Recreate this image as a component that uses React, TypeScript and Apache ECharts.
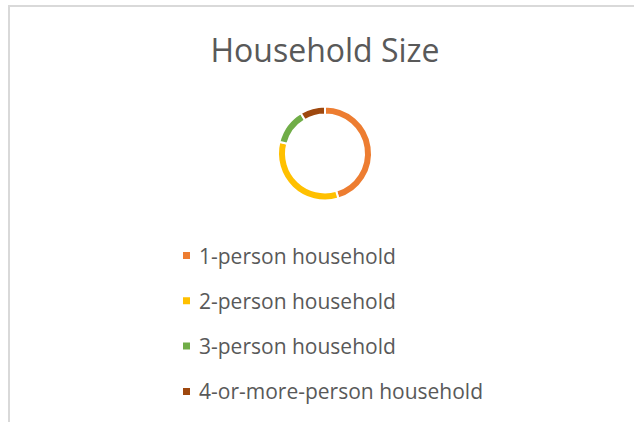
import React, { useEffect, useRef } from "react";
import * as echarts from "echarts";

const categories = [
  "1-person household",
  "2-person household",
  "3-person household",
  "4-or-more-person household",
];
const values = [45.4, 33.6, 12.4, 8.6];
const colors = ["#ED7D31", "#FFC000", "#70AD47", "#9E480E"];
const titleText = "Household Size";

export default function App() {
  const ref = useRef<HTMLDivElement>(null);
  useEffect(() => {
    document.body.style.margin = "0";
    const chart = echarts.init(ref.current!, null, { renderer: "svg" });
    chart.setOption({
      animation: false,
      backgroundColor: "#ffffff",
      graphic: [
        {
          type: "rect",
          shape: { x: 9, y: 6, width: 700, height: 500 },
          style: { fill: "none", stroke: "#d9d9d9", lineWidth: 2 },
          silent: true,
        },
        {
          type: "text",
          x: 325,
          y: 49,
          style: {
            text: titleText,
            fontFamily: "Open Sans",
            fontSize: 32,
            fill: "#595959",
            align: "center",
            verticalAlign: "middle",
          },
        },
      ],
      legend: {
        orient: "vertical",
        left: 181,
        top: 245,
        padding: 0,
        itemWidth: 9,
        itemHeight: 9,
        itemGap: 24.3,
        icon: "rect",
        data: categories,
        textStyle: {
          fontFamily: "Open Sans",
          fontSize: 21,
          lineHeight: 20,
          color: "#595959",
          padding: [0, 0, 0, 3],
        },
      },
      series: [
        {
          type: "pie",
          center: [325, 153.5],
          radius: [39, 47],
          startAngle: 90,
          clockwise: true,
          label: { show: false },
          labelLine: { show: false },
          silent: true,
          itemStyle: { borderColor: "#ffffff", borderWidth: 2 },
          data: categories.map((c, i) => ({
            name: c,
            value: values[i],
            itemStyle: { color: colors[i] },
          })),
        },
      ],
    });
    return () => chart.dispose();
  }, []);
  return <div ref={ref} style={{ width: 634, height: 422 }} />;
}
